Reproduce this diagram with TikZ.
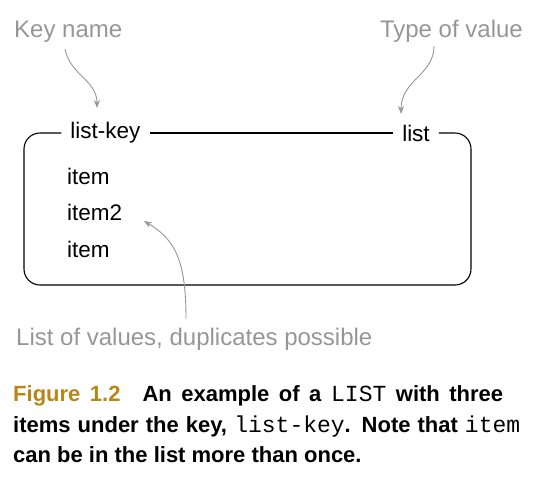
\documentclass[tikz,border=0pt]{standalone}
\usepackage{fontspec}
\setmainfont{Liberation Sans}
\setmonofont{Liberation Mono}
\usetikzlibrary{arrows.meta}
\definecolor{notegray}{RGB}{150,150,150}
\definecolor{figgold}{RGB}{184,134,20}
\newcommand{\capcode}[1]{{\mdseries\fontsize{23}{26}\selectfont\texttt{#1}}}
\tikzset{
  keytext/.style={inner sep=9pt,font=\fontsize{22.5}{26}\selectfont},
  itemtext/.style={anchor=base west,inner sep=0pt,font=\fontsize{22.5}{26}\selectfont},
  notetext/.style={inner sep=0pt,text=notegray,font=\fontsize{24}{28}\selectfont},
  notearrow/.style={draw=notegray,line width=0.9pt,-{Stealth[length=8pt,width=6pt]}},
  captext/.style={anchor=base west,inner sep=0pt,font=\bfseries\fontsize{22}{26}\selectfont}
}
\begin{document}
\begin{tikzpicture}[x=1pt,y=1pt,yscale=-1,xscale=1]
\path (0,0) rectangle (545,493);

% Key and type labels
\node [keytext] (lkey) at (105.5,133) {list-key};
\node [keytext] (ltype) at (416,133) {list};

% List box
\draw [line width=1.1pt] (lkey.east) -- (ltype.west) ;
\draw [line width=1.1pt,rounded corners=16pt] (lkey.west) -- (24,133) -- (24,285) -- (471,285) -- (471,133) -- (ltype.east) ;

% Items
\node [itemtext] (item1) at (67,184) {item};
\node [itemtext] (item2) at (67,220) {item2};
\node [itemtext] (item3) at (67,257) {item};

% Notes
\node [notetext,anchor=base west] (nkey) at (14,37) {Key name};
\node [notetext,anchor=base east] (ntype) at (523,37) {Type of value};
\node [notetext,anchor=base west] (nlist) at (16,345) {List of values, duplicates possible};

% Note arrows
\draw [notearrow] (65,49) .. controls (70,75) and (97,80) .. (97,108) ;
\draw [notearrow] (434,46) .. controls (434,75) and (401,80) .. (401,114) ;
\draw [notearrow] (186,319) .. controls (186,262) and (176,240) .. (144,221) ;

% Caption
\node [captext] (cap1) at (13,401) {\makebox[490pt][s]{\textcolor{figgold}{Figure 1.2}\hspace{22pt}An example of a \capcode{LIST} with three}};
\node [captext] (cap2) at (13,432) {\makebox[507pt][s]{items under the key, \capcode{list-key}. Note that \capcode{item}}};
\node [captext] (cap3) at (13,462) {can be in the list more than once.};
\end{tikzpicture}
\end{document}
